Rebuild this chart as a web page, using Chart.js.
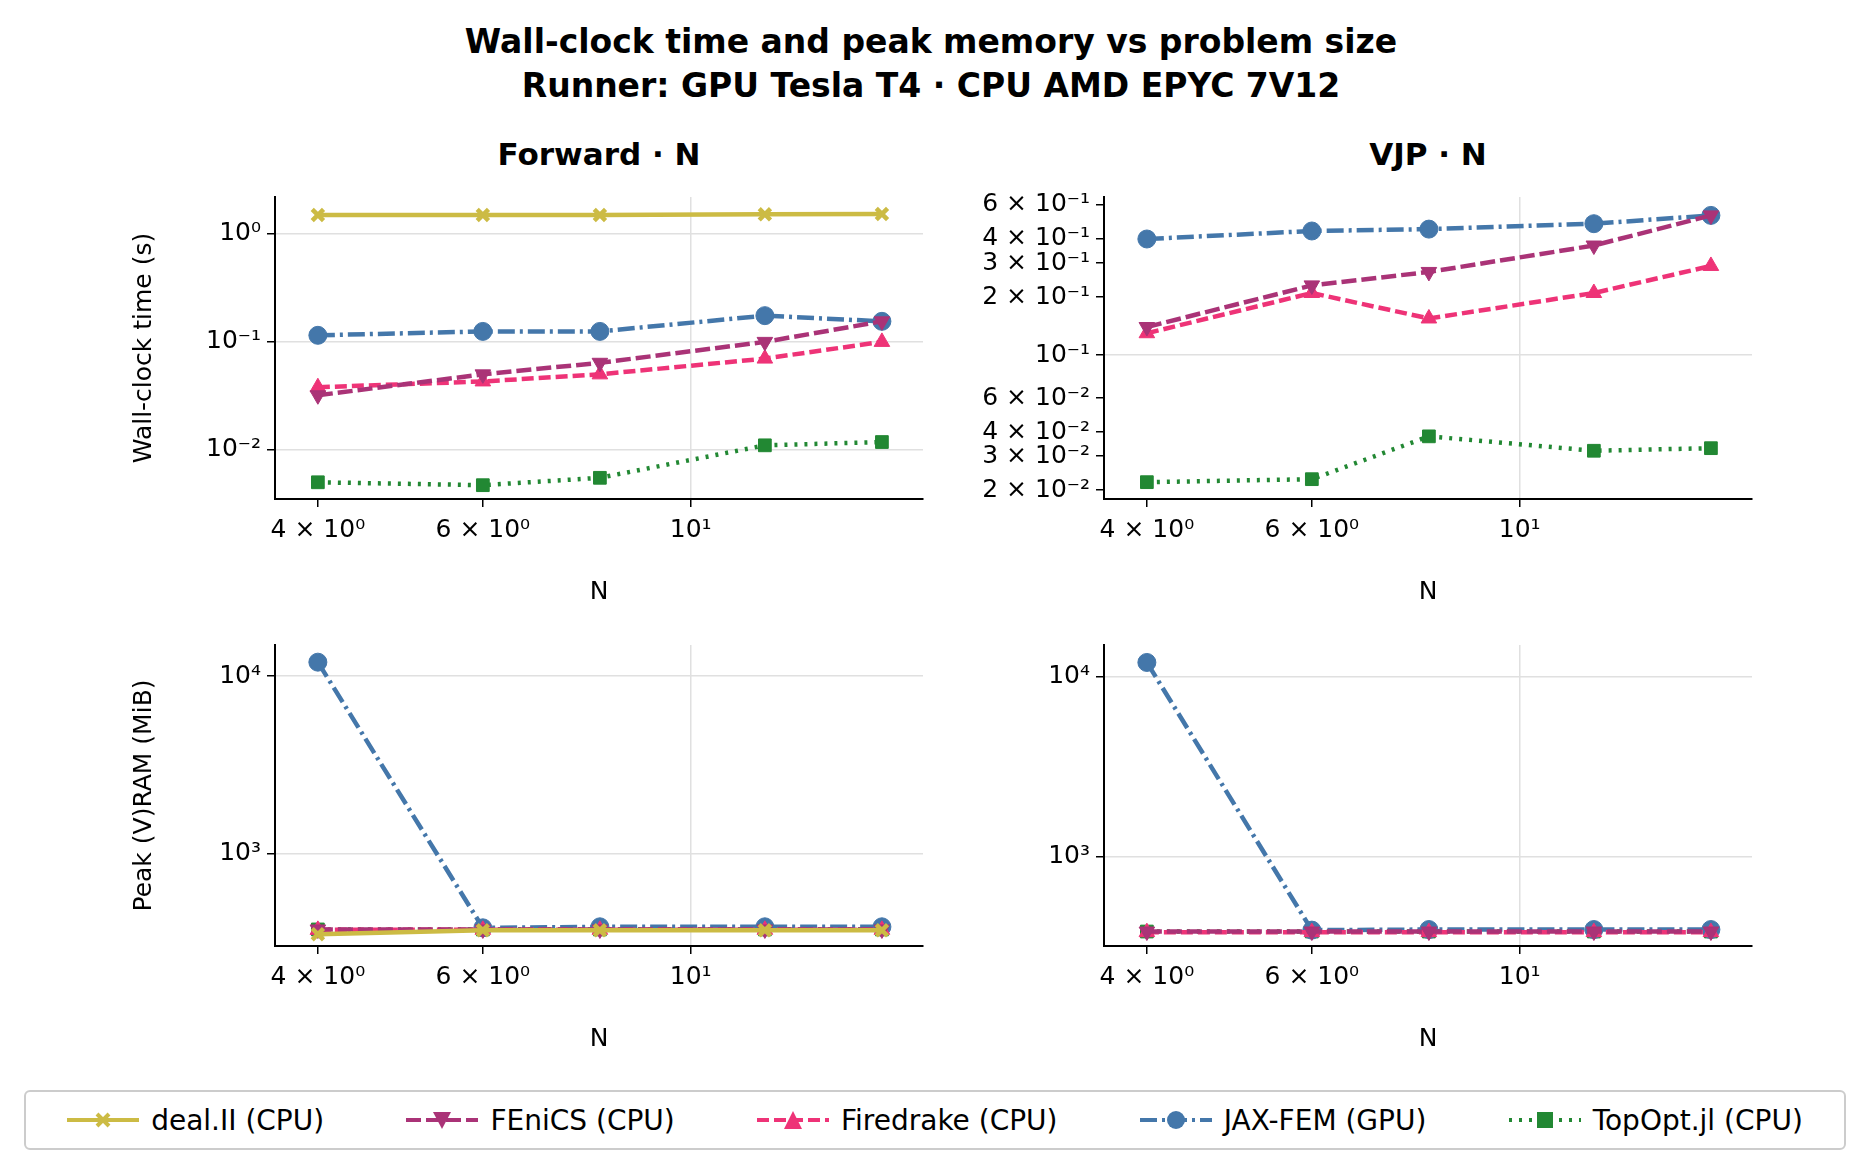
<!DOCTYPE html>
<html><head><meta charset="utf-8">
<script src="https://cdn.jsdelivr.net/npm/chart.js@4"></script>
<style>
body{margin:0;width:1862px;height:1159px;background:#fff;font-family:"DejaVu Sans",sans-serif;position:relative;overflow:hidden}
.t{position:absolute;left:0;width:1862px;text-align:center;font-weight:bold;font-size:33px;color:#000}
.st{position:absolute;text-align:center;font-weight:bold;font-size:31px}
.c{position:absolute}
#legend{position:absolute;left:24px;top:1090px;width:1822px;height:60px;border:2px solid #ccc;border-radius:6px;display:flex;align-items:center;justify-content:space-around;font-size:28px;box-sizing:border-box}
#legend span{display:flex;align-items:center;gap:12px}
</style></head><body>
<div class="t" style="top:22px">Wall-clock time and peak memory vs problem size</div>
<div class="t" style="top:66px">Runner: GPU Tesla T4 · CPU AMD EPYC 7V12</div>
<div class="st" style="left:275px;width:648px;top:136px">Forward · N</div>
<div class="st" style="left:1104px;width:648px;top:136px">VJP · N</div>
<div class="c" id="w0"><canvas id="c0"></canvas></div>
<div class="c" id="w1"><canvas id="c1"></canvas></div>
<div class="c" id="w2"><canvas id="c2"></canvas></div>
<div class="c" id="w3"><canvas id="c3"></canvas></div>
<div id="legend"></div>
<script>
// problem sizes
const sizes = [4, 6, 8, 12, 16];
const solvers = ["deal.II (CPU)", "FEniCS (CPU)", "Firedrake (CPU)", "JAX-FEM (GPU)", "TopOpt.jl (CPU)"];

// forward wall-clock (s)
const fwdDeal = [1.5, 1.5, 1.5, 1.52, 1.53];
const fwdFenics = [0.032, 0.05, 0.064, 0.1, 0.155];
const fwdFiredrake = [0.038, 0.043, 0.05, 0.07, 0.1];
const fwdJax = [0.115, 0.125, 0.125, 0.175, 0.155];
const fwdTopopt = [0.005, 0.0047, 0.0055, 0.011, 0.0118];

// vjp wall-clock (s)
const vjpFenics = [0.14, 0.23, 0.27, 0.37, 0.53];
const vjpFiredrake = [0.13, 0.21, 0.155, 0.21, 0.29];
const vjpJax = [0.40, 0.44, 0.45, 0.48, 0.53];
const vjpTopopt = [0.022, 0.0228, 0.038, 0.032, 0.033];

// forward peak memory (MiB)
const memFwdDeal = [350, 368, 368, 368, 368];
const memFwdFenics = [372, 372, 372, 372, 372];
const memFwdFiredrake = [370, 370, 370, 370, 370];
const memFwdJax = [12000, 380, 385, 385, 385];
const memFwdTopopt = [372, 372, 372, 372, 372];

// vjp peak memory (MiB)
const memVjpFenics = [385, 385, 385, 385, 385];
const memVjpFiredrake = [382, 382, 382, 382, 382];
const memVjpJax = [12000, 392, 395, 395, 395];
const memVjpTopopt = [385, 385, 385, 385, 385];

const xTicks = [4, 6, 10];
const xLabels = ["4 × 10⁰", "6 × 10⁰", "10¹"];

const styles = [
  {color:'#ccbb44', dash:[], point:'crossRot', rot:0},
  {color:'#aa3377', dash:[15,5], point:'triangle', rot:180},
  {color:'#ee3377', dash:[12,5], point:'triangle', rot:0},
  {color:'#4477aa', dash:[17,5,3,5], point:'circle', rot:0},
  {color:'#228833', dash:[3,7], point:'rect', rot:0}
];

function ds(i, values) {
  const s = styles[i];
  return {
    label: solvers[i], data: values.map((v, k) => ({x: sizes[k], y: v})),
    borderColor: s.color, backgroundColor: s.color, borderDash: s.dash,
    borderWidth: 4.5, pointStyle: s.point, rotation: s.rot,
    pointRadius: s.point === 'crossRot' ? 8 : 9, pointBorderWidth: s.point === 'crossRot' ? 4.5 : 1
  };
}

const F = {family: '"DejaVu Sans"', size: 25};

function make(id, box, left, datasets, yMin, yMax, yTicks, yLabels, yGrid, yTitle) {
  const w = document.getElementById('w' + id);
  const padTop = 15, bottom = 112;
  w.style.left = (box[0] - left) + 'px';
  w.style.top = (box[1] - padTop) + 'px';
  w.style.width = (box[2] - box[0] + left + 15) + 'px';
  w.style.height = (box[3] - box[1] + padTop + bottom) + 'px';
  new Chart(document.getElementById('c' + id), {
    type: 'line',
    data: {datasets},
    options: {
      responsive: true, maintainAspectRatio: false, animation: false,
      layout: {padding: {top: padTop, right: 15}},
      plugins: {legend: {display: false}, tooltip: {enabled: false}},
      scales: {
        x: {
          type: 'logarithmic', min: 3.6, max: 17.7,
          afterBuildTicks: s => { s.ticks = xTicks.map(v => ({value: v})); },
          afterFit: s => { s.height = bottom; },
          ticks: {font: F, color: '#000', padding: 8, maxRotation: 0, autoSkip: false,
                  callback: (v) => xLabels[xTicks.indexOf(v)]},
          grid: {color: c => c.tick && c.tick.value === 10 ? '#e0e0e0' : 'rgba(0,0,0,0)',
                 tickColor: '#000', tickLength: 8, lineWidth: 1.5},
          border: {color: '#000', width: 2},
          title: {display: true, text: 'N', font: F, color: '#000', padding: {top: 18}}
        },
        y: {
          type: 'logarithmic', min: yMin, max: yMax,
          afterBuildTicks: s => { s.ticks = yTicks.map(v => ({value: v})); },
          afterFit: s => { s.width = left; },
          ticks: {font: F, color: '#000', padding: 6, autoSkip: false,
                  callback: (v) => yLabels[yTicks.indexOf(v)]},
          grid: {color: c => c.tick && yGrid.includes(c.tick.value) ? '#e0e0e0' : 'rgba(0,0,0,0)',
                 tickColor: '#000', tickLength: 8, lineWidth: 1.5},
          border: {color: '#000', width: 2},
          title: {display: !!yTitle, text: yTitle, font: F, color: '#000', padding: {bottom: 4}}
        }
      }
    }
  });
}

make(0, [275, 191, 923, 499], 150,
  [ds(0, fwdDeal), ds(1, fwdFenics), ds(2, fwdFiredrake), ds(3, fwdJax), ds(4, fwdTopopt)],
  0.0035, 2.2, [0.01, 0.1, 1], ["10⁻²", "10⁻¹", "10⁰"], [0.01, 0.1, 1], 'Wall-clock time (s)');

make(1, [1104, 191, 1752, 499], 200,
  [ds(1, vjpFenics), ds(2, vjpFiredrake), ds(3, vjpJax), ds(4, vjpTopopt)],
  0.018, 0.66, [0.02, 0.03, 0.04, 0.06, 0.1, 0.2, 0.3, 0.4, 0.6],
  ["2 × 10⁻²", "3 × 10⁻²", "4 × 10⁻²", "6 × 10⁻²", "10⁻¹", "2 × 10⁻¹", "3 × 10⁻¹", "4 × 10⁻¹", "6 × 10⁻¹"],
  [0.1], '');

make(2, [275, 639, 923, 946], 150,
  [ds(0, memFwdDeal), ds(1, memFwdFenics), ds(2, memFwdFiredrake), ds(3, memFwdJax), ds(4, memFwdTopopt)],
  300, 15000, [1000, 10000], ["10³", "10⁴"], [1000, 10000], 'Peak (V)RAM (MiB)');

make(3, [1104, 639, 1752, 946], 150,
  [ds(1, memVjpFenics), ds(2, memVjpFiredrake), ds(3, memVjpJax), ds(4, memVjpTopopt)],
  320, 15000, [1000, 10000], ["10³", "10⁴"], [1000, 10000], '');

// legend
const lg = document.getElementById('legend');
styles.forEach((s, i) => {
  const dash = s.dash.length ? `stroke-dasharray="${s.dash.join(' ')}"` : '';
  let m = '';
  if (s.point === 'crossRot') m = `<path d="M30 12 L42 24 M42 12 L30 24" stroke="${s.color}" stroke-width="4"/>`;
  else if (s.point === 'circle') m = `<circle cx="36" cy="18" r="9" fill="${s.color}"/>`;
  else if (s.point === 'rect') m = `<rect x="28" y="10" width="16" height="16" fill="${s.color}"/>`;
  else if (s.rot) m = `<path d="M27 10 L45 10 L36 27 Z" fill="${s.color}"/>`;
  else m = `<path d="M27 27 L45 27 L36 9 Z" fill="${s.color}"/>`;
  lg.insertAdjacentHTML('beforeend',
    `<span><svg width="72" height="36"><line x1="0" y1="18" x2="72" y2="18" stroke="${s.color}" stroke-width="4" ${dash}/>${m}</svg>${solvers[i]}</span>`);
});
</script>
</body></html>
